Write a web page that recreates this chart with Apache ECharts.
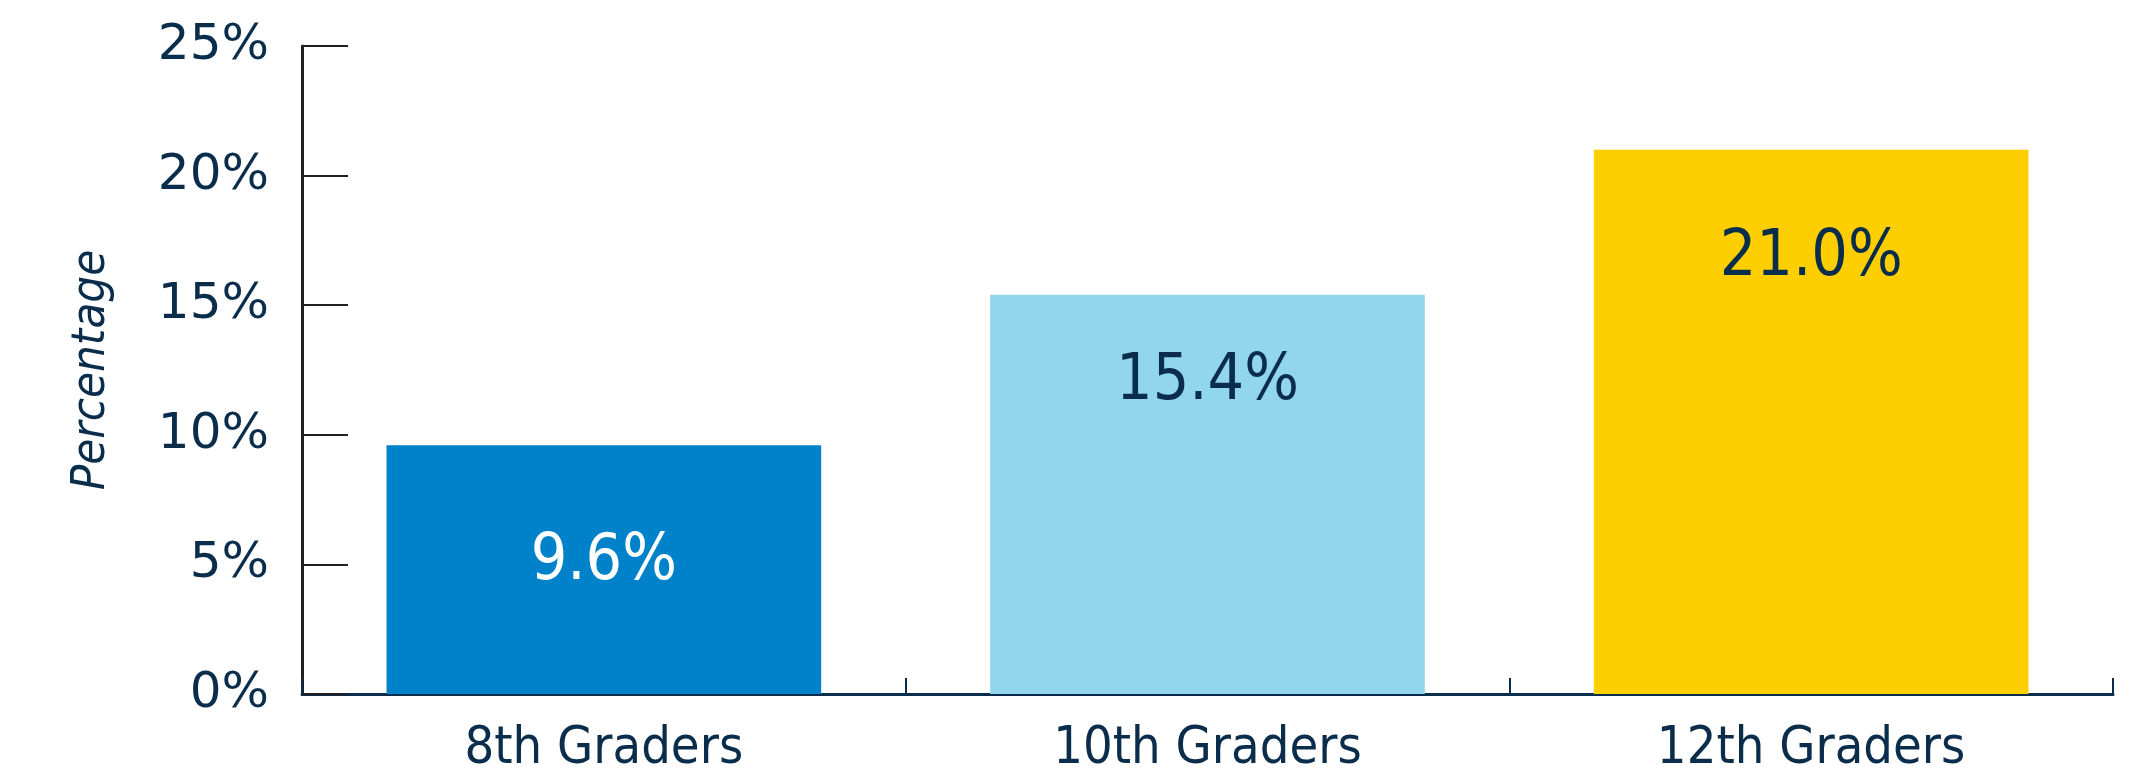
<!DOCTYPE html>
<html>
<head>
<meta charset="utf-8">
<script src="https://cdn.jsdelivr.net/npm/echarts@6/dist/echarts.min.js"></script>
<style>
html,body{margin:0;padding:0;background:#fff;}
#chart{width:2143px;height:775px;}
</style>
</head>
<body>
<div id="chart"></div>
<script>
const categories = ['8th Graders', '10th Graders', '12th Graders'];
const values = [9.6, 15.4, 21.0];
const barColors = ['#0082CA', '#91D6EC', '#FDCF00'];
const labelColors = ['#FFFFFF', '#0B2D4C', '#0B2D4C'];
const labelDistances = [85, 56, 77];
const yTicks = [0, 5, 10, 15, 20, 25];

const navy = '#0B2D4C';
const chart = echarts.init(document.getElementById('chart'));
chart.setOption({
  animation: false,
  grid: { left: 302, right: 30, top: 46, bottom: 81, containLabel: false },
  xAxis: {
    type: 'category',
    data: categories,
    boundaryGap: true,
    axisLine: { lineStyle: { color: navy, width: 3 } },
    axisTick: { show: true, inside: true, length: 16, lineStyle: { color: navy, width: 2 } },
    axisLabel: { color: navy, fontFamily: 'DejaVu Sans Condensed', fontSize: 52, margin: 29 }
  },
  yAxis: {
    type: 'value',
    min: yTicks[0],
    max: yTicks[yTicks.length - 1],
    interval: 5,
    name: 'Percentage',
    nameLocation: 'middle',
    nameGap: 187,
    nameRotate: 90,
    nameTextStyle: { color: navy, fontFamily: 'DejaVu Sans Condensed', fontStyle: 'italic', fontSize: 47 },
    axisLine: { show: true, lineStyle: { color: '#231F20', width: 3 } },
    axisTick: { show: true, inside: true, length: 46, lineStyle: { color: '#231F20', width: 2 } },
    splitLine: { show: false },
    axisLabel: { color: navy, fontFamily: 'DejaVu Sans', fontSize: 50, margin: 33, formatter: '{value}%' }
  },
  series: [{
    type: 'bar',
    barCategoryGap: '28%',
    data: values.map((v, i) => ({
      value: v,
      itemStyle: { color: barColors[i] },
      label: {
        show: true,
        position: 'insideTop',
        distance: labelDistances[i],
        color: labelColors[i],
        fontFamily: 'DejaVu Sans Condensed',
        fontSize: 64,
        formatter: (p) => p.value.toFixed(1) + '%'
      }
    }))
  }]
});
</script>
</body>
</html>
